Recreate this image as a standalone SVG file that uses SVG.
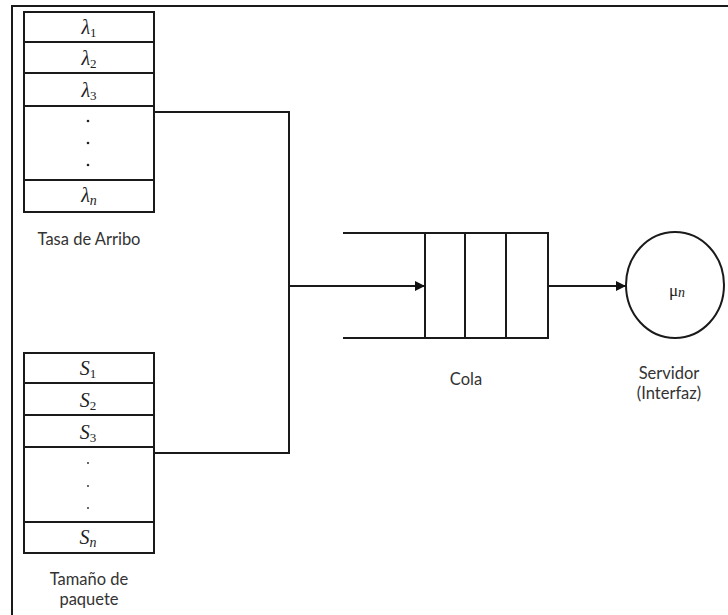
<svg xmlns="http://www.w3.org/2000/svg" width="728" height="615" viewBox="0 0 728 615">
<defs>
<style>
.ln{stroke:#1a1a1a;stroke-width:2;fill:none}
.cell{stroke:#1a1a1a;stroke-width:2;fill:#fff}
.lbl{font-family:"Lato","Open Sans",sans-serif;font-size:16.5px;fill:#333;text-anchor:middle}
.m{font-family:"Liberation Serif",serif;font-style:italic;font-size:20px;fill:#222;text-anchor:middle}
.sub{font-size:13px;font-style:normal}
.subi{font-size:14px}
.dot{fill:#222}
</style>
<marker id="ah" viewBox="0 0 10 10" refX="10" refY="5" markerWidth="10" markerHeight="10" markerUnits="userSpaceOnUse" orient="auto">
<path d="M0,0 L10,5 L0,10 z" fill="#111"/>
</marker>
</defs>
<rect width="728" height="615" fill="#fff"/>
<path class="ln" d="M12,615 V6 H728"/>

<g id="tasa">
<rect class="cell" x="24" y="12" width="130" height="200"/>
<path class="ln" d="M24,42 H154 M24,73 H154 M24,106 H154 M24,180 H154"/>
<text class="m" x="89" y="34">λ<tspan class="sub" dy="3">1</tspan></text>
<text class="m" x="89" y="65">λ<tspan class="sub" dy="3">2</tspan></text>
<text class="m" x="89" y="97">λ<tspan class="sub" dy="3">3</tspan></text>
<circle class="dot" cx="88" cy="121" r="1.3"/>
<circle class="dot" cx="88" cy="143" r="1.3"/>
<circle class="dot" cx="88" cy="165" r="1.3"/>
<text class="m" x="89" y="202">λ<tspan class="subi" dy="3">n</tspan></text>
<text class="lbl" x="89" y="245">Tasa de Arribo</text>
</g>

<g id="tamano">
<rect class="cell" x="24" y="353" width="130" height="200"/>
<path class="ln" d="M24,383 H154 M24,415 H154 M24,447 H154 M24,522 H154"/>
<text class="m" x="88" y="375">S<tspan class="sub" dy="3">1</tspan></text>
<text class="m" x="88" y="407">S<tspan class="sub" dy="3">2</tspan></text>
<text class="m" x="88" y="439">S<tspan class="sub" dy="3">3</tspan></text>
<circle class="dot" cx="88" cy="463" r="0.9"/>
<circle class="dot" cx="88" cy="486" r="0.9"/>
<circle class="dot" cx="88" cy="508" r="0.9"/>
<text class="m" x="88" y="544">S<tspan class="subi" dy="3">n</tspan></text>
<text class="lbl" x="89" y="585">Tamaño de</text>
<text class="lbl" x="89" y="605">paquete</text>
</g>

<g id="cola">
<path class="ln" d="M343,233 H548 M343,338 H548"/>
<rect class="cell" x="425" y="233" width="123" height="105"/>
<path class="ln" d="M465,233 V338 M506,233 V338"/>
<text class="lbl" x="466" y="385">Cola</text>
</g>

<g id="servidor">
<ellipse class="cell" cx="675" cy="285" rx="49" ry="53"/>
<text class="m" x="677" y="296" style="font-style:normal;font-size:17px">μ<tspan class="subi" style="font-style:italic" dy="1">n</tspan></text>
<text class="lbl" x="669" y="379">Servidor</text>
<text class="lbl" x="669" y="399">(Interfaz)</text>
</g>

<g id="connectors">
<path class="ln" d="M154,112 H289 V453 H154"/>
<path class="ln" d="M289,286 H425" marker-end="url(#ah)"/>
<path class="ln" d="M548,286 H626" marker-end="url(#ah)"/>
</g>
</svg>
